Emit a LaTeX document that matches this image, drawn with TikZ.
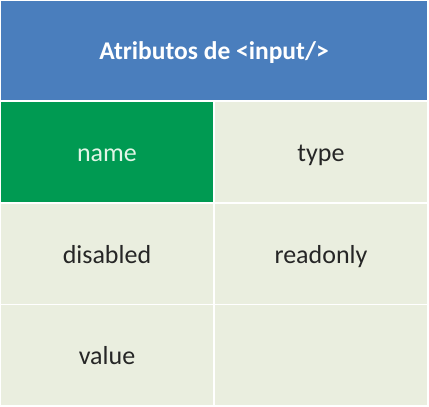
\documentclass[tikz,border=0pt]{standalone}
\usepackage{fontspec}
\setmainfont{Carlito}
\definecolor{hdrblue}{HTML}{4A7EBD}
\definecolor{cellgreen}{HTML}{009A52}
\definecolor{cellbg}{HTML}{EAEEDF}
\definecolor{txtdark}{HTML}{262626}
\definecolor{txtlight}{HTML}{E2F5E6}
\tikzset{
  cellbox/.style={fill=cellbg, draw=none, minimum width=212pt, minimum height=100pt, inner sep=0pt, text=txtdark, text height=1ex, text depth=0pt, font=\fontsize{26}{30}\selectfont},
  hdrbox/.style={fill=hdrblue, draw=none, minimum width=426pt, minimum height=99pt, inner sep=0pt, text=white, text height=1ex, text depth=0pt, font=\fontsize{25.5}{29}\selectfont\bfseries},
  hilite/.style={cellbox, fill=cellgreen, text=txtlight}
}
\begin{document}
\begin{tikzpicture}[x=1pt,y=-1pt]
\useasboundingbox[fill=white] (0,0) rectangle (429,407);
\node[hdrbox] (hdr) at (214,50.5) {};
\node[hilite] (name) at (107,152) {};
\node[cellbox] (type) at (321,152) {};
\node[cellbox] (disabled) at (107,254) {};
\node[cellbox] (readonly) at (321,254) {};
\node[cellbox] (value) at (107,355) {};
\node[cellbox] (empty) at (321,355) {};
\tikzset{lbl/.style={fill=none, minimum width=0pt, minimum height=0pt}}
\node[hdrbox, lbl] (hdrtxt) at ([yshift=-7pt]hdr.center) {Atributos de <input/>};
\node[hilite, lbl] (nametxt) at ([yshift=-7.5pt]name.center) {name};
\node[cellbox, lbl] (typetxt) at ([yshift=-7.5pt]type.center) {type};
\node[cellbox, lbl] (disabledtxt) at ([yshift=-7pt]disabled.center) {disabled};
\node[cellbox, lbl] (readonlytxt) at ([yshift=-7pt]readonly.center) {readonly};
\node[cellbox, lbl] (valuetxt) at ([yshift=-7pt]value.center) {value};
\end{tikzpicture}
\end{document}
